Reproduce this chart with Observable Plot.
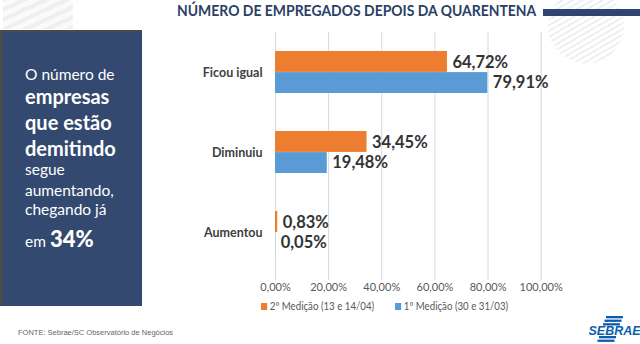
<!DOCTYPE html>
<html>
<head>
<meta charset="utf-8">
<script src="https://cdn.jsdelivr.net/npm/d3@7"></script>
<script src="https://cdn.jsdelivr.net/npm/@observablehq/plot@0.6"></script>
<style>
  html, body { margin: 0; padding: 0; background: #fff; }
  #wrap { position: relative; width: 640px; height: 344px; overflow: hidden; background: #fff; font-family: Lato, "Open Sans", sans-serif; }
  .abs { position: absolute; white-space: nowrap; }
  #hatchL { left: 3px; top: 0; width: 70px; height: 29px;
    background: repeating-linear-gradient(-25deg, #efefef 0 4px, #fafafa 4px 9px); }
  #hatchR { left: 548px; top: -12px; width: 76px; height: 76px; border-radius: 50%;
    background: repeating-linear-gradient(-30deg, #eeeeee 0 2px, #ffffff 2px 5px); opacity: 0.9; }
  #panel { left: 0; top: 30px; width: 142px; height: 276px; background: #33496f; border-left: 3px solid #4a4a4a; border-top: 2px solid #4a4a4a; box-sizing: border-box; }
  .pt { color: #fff; left: 25px; font-family: Lato, sans-serif; line-height: 1; }
  #title { left: 177px; top: 3.6px; line-height: 1; font-family: Lato, sans-serif; font-weight: 700; font-size: 14.5px; color: #2b3f66; transform: scaleX(0.962); transform-origin: left center; }
  #titlebar { left: 543px; top: 9px; width: 97px; height: 7px; background: #2f4470; }
  #chart { left: 0; top: 0; }
  #chart svg { overflow: visible; }
  .leg { font-family: Lato, "Open Sans", sans-serif; font-size: 11px; color: #595959; top: 299px; transform: scaleX(0.88); transform-origin: left center; }
  .sw { display: inline-block; width: 7px; height: 7px; margin-right: 3px; vertical-align: 0px; }
  #fonte { left: 18px; top: 328px; font-family: "Liberation Sans Narrow", "Liberation Sans", sans-serif; font-size: 7.5px; color: #666; }
  #logo { left: 589px; top: 316px; width: 51px; height: 27px; }
</style>
</head>
<body>
<div id="wrap">
  <div id="hatchL" class="abs"></div>
  <div id="hatchR" class="abs"></div>
  <div id="panel" class="abs"></div>
  <div class="abs pt" style="top:67.3px;font-size:15.5px;">O número de</div>
  <div class="abs pt" style="top:85.5px;font-size:20px;font-weight:700;">empresas</div>
  <div class="abs pt" style="top:111.5px;font-size:20px;font-weight:700;">que estão</div>
  <div class="abs pt" style="top:137.5px;font-size:20px;font-weight:700;">demitindo</div>
  <div class="abs pt" style="top:161.8px;font-size:15.5px;">segue</div>
  <div class="abs pt" style="top:182.5px;font-size:15.5px;">aumentando,</div>
  <div class="abs pt" style="top:202.3px;font-size:15.5px;">chegando já</div>
  <div class="abs pt" style="top:228.2px;font-size:15.5px;">em <span style="font-size:22px;font-weight:900;">34%</span></div>
  <div id="title" class="abs">NÚMERO DE EMPREGADOS DEPOIS DA QUARENTENA</div>
  <div id="titlebar" class="abs"></div>
  <div id="chart" class="abs"></div>
  <div id="legend"></div>
  <div id="fonte" class="abs">FONTE: Sebrae/SC Observatório de Negócios</div>
  <svg id="logo" class="abs" viewBox="0 0 51 27">
    <g fill="#0b5eae">
      <rect x="17" y="0" width="17" height="2.3"/>
      <rect x="15.5" y="3.6" width="17" height="2.3"/>
      <rect x="14" y="7.2" width="17" height="2.3"/>
      <rect x="10" y="20" width="17" height="2.3"/>
      <rect x="8.5" y="23.6" width="17" height="2.3"/>
    </g>
    <text x="25.5" y="18.6" text-anchor="middle" font-family="Liberation Sans, Arial, sans-serif" font-weight="700" font-style="italic" font-size="12.5" fill="#0b5eae">SEBRAE</text>
  </svg>
</div>
<script>
const categories = ["Ficou igual", "Diminuiu", "Aumentou"];
const medicao2 = [64.72, 34.45, 0.83];
const medicao1 = [79.91, 19.48, 0.05];
const seriesNames = ["2º Medição (13 e 14/04)", "1º Medição (30 e 31/03)"];
const seriesColors = ["#ed7d31", "#5b9bd5"];
const xTicks = [0, 20, 40, 60, 80, 100];

const fmt = v => v.toFixed(2).replace(".", ",") + "%";
const rows2 = categories.map((c, i) => ({cat: c, value: medicao2[i]}));
const rows1 = categories.map((c, i) => ({cat: c, value: medicao1[i]}));

const half = 21.1;
const labelStyle = {textAnchor: "start", dx: 5, fontSize: 16.5, fontWeight: "bold", fill: "#333",
  fontFamily: "Lato, sans-serif"};

const chart = Plot.plot({
  width: 640,
  height: 344,
  marginLeft: 275,
  marginRight: 99.3,
  marginTop: 32,
  marginBottom: 64,
  style: {background: "transparent", fontFamily: "Lato, sans-serif", overflow: "visible"},
  x: {domain: [0, 100], ticks: xTicks, tickSize: 0, tickPadding: 3, tickFormat: fmt, label: null},
  y: {domain: categories, paddingInner: 0.472, paddingOuter: 0.285, align: 0.41, tickSize: 0, tickPadding: 13, label: null},
  marks: [
    Plot.ruleX(xTicks, {x: d => d, stroke: "#d9d9d9", strokeWidth: 1}),
    Plot.barX(rows2, {x: "value", y: "cat", fill: seriesColors[0], insetBottom: half}),
    Plot.barX(rows1, {x: "value", y: "cat", fill: seriesColors[1], insetTop: half}),
    Plot.text(rows2, {x: "value", y: "cat", text: d => fmt(d.value), dy: -10, ...labelStyle}),
    Plot.text(rows1, {x: "value", y: "cat", text: d => fmt(d.value), dy: 10.5, ...labelStyle})
  ]
});
document.getElementById("chart").appendChild(chart);

// style axes
d3.select(chart).selectAll('g[aria-label^="x-axis"] text')
  .attr("font-size", 11).attr("fill", "#595959").style("font-family", "Lato, sans-serif");
d3.select(chart).selectAll('g[aria-label^="y-axis"] text')
  .attr("font-size", 12.5).attr("font-weight", "bold").attr("fill", "#404040").style("font-family", "Lato, sans-serif");
d3.select(chart).selectAll('g[aria-label^="x-axis"] path.domain, g[aria-label^="y-axis"] path.domain').remove();

// legend
const legend = document.getElementById("legend");
const legX = [261, 395];
seriesNames.forEach((n, i) => {
  const d = document.createElement("div");
  d.className = "abs leg";
  d.style.left = legX[i] + "px";
  d.innerHTML = `<span class="sw" style="background:${seriesColors[i]}"></span>${n}`;
  legend.appendChild(d);
});
</script>
</body>
</html>
